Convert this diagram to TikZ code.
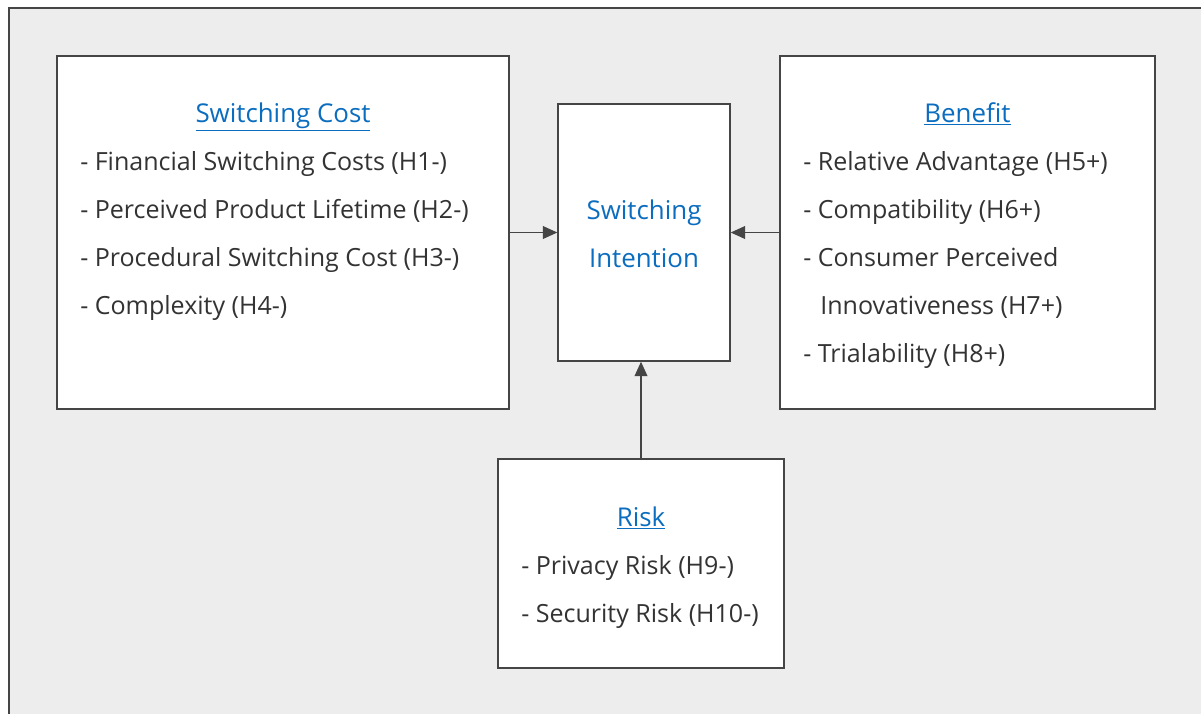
\documentclass[tikz,border=0pt]{standalone}
\usepackage{fontspec}
\setmainfont{Open Sans}
\usetikzlibrary{arrows.meta}

\definecolor{panelgray}{HTML}{EDEDED}
\definecolor{framegray}{HTML}{454545}
\definecolor{headblue}{HTML}{0B6DBF}
\definecolor{itemgray}{HTML}{333333}

\begin{document}
\begin{tikzpicture}[x=0.025cm,y=-0.025cm,
  box/.style 2 args={draw=framegray, line width=1pt, fill=white, inner sep=0,
    minimum width=#1*0.025cm, minimum height=#2*0.025cm},
  head/.style={anchor=base, inner sep=0, text=headblue, font=\fontsize{18.4}{34}\selectfont},
  item/.style={anchor=base west, inner sep=0, text=itemgray, font=\fontsize{17.8}{34}\selectfont},
  link/.style={draw=framegray, line width=0.8pt, -{Triangle[length=3.6mm,width=3.2mm]}}]
\useasboundingbox (0,0) rectangle (1201,713);
\fill[white] (0,0) rectangle (1201,713);
\draw[framegray, line width=1.2pt, fill=panelgray] (9,8) rectangle (1215,725);

\node[box={452}{353}] (cost) at (283,232.5) {};
\node[box={172}{257}] (intent) at (644,232.5) {};
\node[box={375}{353}] (benefit) at (967.5,232.5) {};
\node[box={286}{209}] (risk) at (641,563.5) {};

\node[head] (costhead) at (283,122) {\underline{Switching Cost}};
\foreach \i/\t in {1/Financial Switching Costs (H1-),
                   2/Perceived Product Lifetime (H2-),
                   3/Procedural Switching Cost (H3-),
                   4/Complexity (H4-)}
  \node[item] (cost\i) at (80,122+48*\i) {- \t};

\node[head] (intenthead) at (644,219) {Switching};
\node[head] (intentsub) at (644,267) {Intention};

\node[head] (benefithead) at (967.5,122) {\underline{Benefit}};
\node[item] (benefit1) at (803,170) {- Relative Advantage (H5+)};
\node[item] (benefit2) at (803,218) {- Compatibility (H6+)};
\node[item] (benefit3) at (803,266) {- Consumer Perceived};
\node[item] (benefit4) at (820,314) {Innovativeness (H7+)};
\node[item] (benefit5) at (803,362) {- Trialability (H8+)};

\node[head] (riskhead) at (641,526) {\underline{Risk}};
\node[item] (risk1) at (521,574) {- Privacy Risk (H9-)};
\node[item] (risk2) at (521,622) {- Security Risk (H10-)};

\draw[link] (cost.east) -- (intent.west);
\draw[link] (benefit.west) -- (intent.east);
\draw[link] (risk.north) -- (risk.north |- intent.south);
\end{tikzpicture}
\end{document}
